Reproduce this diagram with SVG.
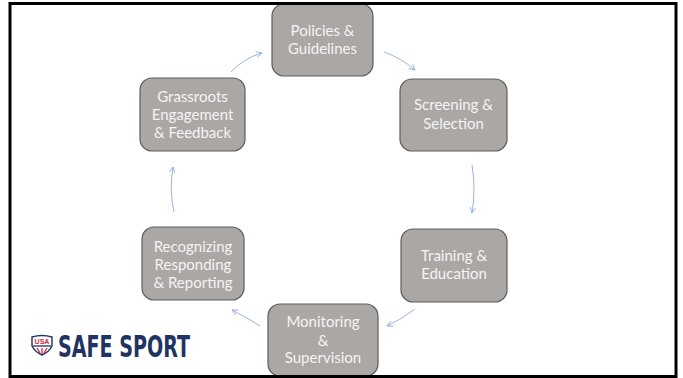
<svg xmlns="http://www.w3.org/2000/svg" width="683" height="378" viewBox="0 0 683 378">
<style>
.box{fill:#aba7a5;stroke:#5e5e5e;stroke-width:1.2}
.lbl{font-family:Lato,"Liberation Sans",sans-serif;font-size:15px;fill:#f4f4f4;text-anchor:middle}
.con{fill:none;stroke:#8faadc;stroke-width:0.9;marker-end:url(#ah)}
</style>
<defs>
<marker id="ah" viewBox="0 0 10 10" refX="9" refY="5" markerWidth="7" markerHeight="7" orient="auto" markerUnits="userSpaceOnUse">
<path d="M1,1 L9,5 L1,9" fill="none" stroke="#8faadc" stroke-width="1.2"/>
</marker>
</defs>
<rect x="0" y="0" width="683" height="378" fill="#ffffff"/>
<g id="connectors">
<path class="con" d="M384,52 Q401,58 415,70"/>
<path class="con" d="M472,165 Q476,189 472,213"/>
<path class="con" d="M415,309 Q402,319 387,326"/>
<path class="con" d="M260,326 Q246,317 232,310"/>
<path class="con" d="M174,212 Q169,190 173,167"/>
<path class="con" d="M231,72 Q244,58 262,53"/>
</g>
<g id="policies">
<rect class="box" x="272" y="4" width="101" height="72" rx="12"/>
<text class="lbl" x="322.5" y="36">Policies &amp;</text>
<text class="lbl" x="322.5" y="54">Guidelines</text>
</g>
<g id="screening">
<rect class="box" x="400" y="79" width="107" height="72" rx="12"/>
<text class="lbl" x="453.5" y="110">Screening &amp;</text>
<text class="lbl" x="453.5" y="129">Selection</text>
</g>
<g id="training">
<rect class="box" x="401" y="229" width="106" height="73" rx="12"/>
<text class="lbl" x="454" y="261">Training &amp;</text>
<text class="lbl" x="454" y="279">Education</text>
</g>
<g id="monitoring">
<rect class="box" x="268" y="304" width="110" height="72" rx="12"/>
<text class="lbl" x="323" y="327">Monitoring</text>
<text class="lbl" x="323" y="346">&amp;</text>
<text class="lbl" x="323" y="363">Supervision</text>
</g>
<g id="recognizing">
<rect class="box" x="142" y="227" width="102" height="73" rx="12"/>
<text class="lbl" x="193" y="252">Recognizing</text>
<text class="lbl" x="193" y="270">Responding</text>
<text class="lbl" x="193" y="288">&amp; Reporting</text>
</g>
<g id="grassroots">
<rect class="box" x="140" y="78" width="105" height="73" rx="12"/>
<text class="lbl" x="192.5" y="102">Grassroots</text>
<text class="lbl" x="192.5" y="120">Engagement</text>
<text class="lbl" x="192.5" y="138">&amp; Feedback</text>
</g>
<g id="logo">
<path d="M32,337 Q42,334 52,337 L52,346 Q49,352 42,355 Q35,352 32,346 Z" fill="#ffffff" stroke="#1f3464" stroke-width="1.4"/>
<text x="42" y="344" font-family="'Liberation Sans',sans-serif" font-weight="bold" font-size="7" fill="#d9263a" text-anchor="middle">USA</text>
<path d="M33,346 L51,346" stroke="#1f3464" stroke-width="1.3"/>
<path d="M37,348 L40,353 M42,348 L42,354 M47,348 L44,353" stroke="#d9263a" stroke-width="1.3"/>
<text x="58" y="357" font-family="'Liberation Sans Narrow','DejaVu Sans Condensed','Liberation Sans',sans-serif" font-weight="bold" font-size="30" fill="#1f3464" textLength="132" lengthAdjust="spacingAndGlyphs">SAFE SPORT</text>
</g>
<rect x="10" y="3.5" width="666" height="373" fill="none" stroke="#000000" stroke-width="3"/>
</svg>
